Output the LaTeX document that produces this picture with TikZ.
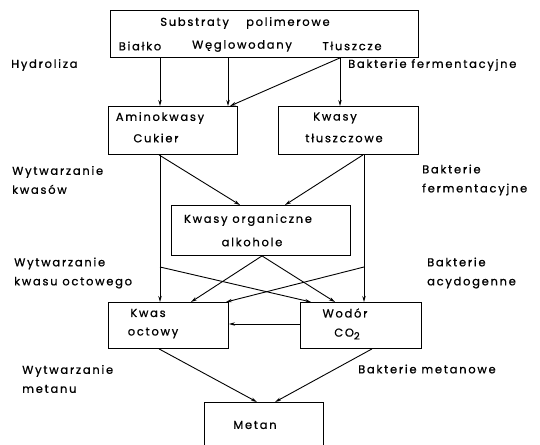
\documentclass[tikz,border=0pt]{standalone}
\usepackage{fontspec}
\setmainfont{Poppins}[LetterSpace=15,FakeBold=0.8]
\usetikzlibrary{arrows.meta,calc}
\begin{document}
\begin{tikzpicture}[x=1pt,y=-1pt,
  box/.style={draw,line width=0.9pt,inner sep=0pt,anchor=north west},
  lbl/.style={inner sep=0pt,anchor=west,font=\fontsize{11.5}{19}\selectfont},
  txt/.style={inner sep=0pt,font=\fontsize{11.5}{14}\selectfont},
  arr/.style={line width=0.9pt,-{Stealth[length=6pt,width=3.4pt]}}]
\clip (0,0) rectangle (540,444);
\fill[white] (0,0) rectangle (540,444);
% boxes
\node[box,minimum width=308,minimum height=47] (top) at (110,10) {};
\node[box,minimum width=129,minimum height=48] (amino) at (108,106) {};
\node[box,minimum width=140,minimum height=48] (fat) at (278,106) {};
\node[box,minimum width=179,minimum height=50] (org) at (171,205) {};
\node[box,minimum width=120,minimum height=46] (acet) at (108,302) {};
\node[box,minimum width=121,minimum height=46] (hyd) at (300,302) {};
\node[box,minimum width=119,minimum height=60] (met) at (204,402) {};
% box texts
\node[txt] (t1) at (245,23) {Substraty\hspace{1.5em}polimerowe};
\node[txt] (t2) at (140,46) {Białko};
\node[txt] (t3) at (242,46) {Węglowodany};
\node[txt] (t4) at (352,46) {Tłuszcze};
\node[txt] (a1) at (160,118) {Aminokwasy};
\node[txt] (a2) at (156,138) {Cukier};
\node[txt] (f1) at (335,118) {Kwasy};
\node[txt] (f2) at (344,138) {tłuszczowe};
\node[txt] (o1) at (248,220) {Kwasy organiczne};
\node[txt] (o2) at (252,242) {alkohole};
\node[txt] (k1) at (148,313) {Kwas};
\node[txt] (k2) at (153,333) {octowy};
\node[txt] (w1) at (345,313) {Wodór};
\node[txt] (w2) at (347,334) {CO\raisebox{-0.45ex}{\fontsize{10}{10}\selectfont 2}};
\node[txt] (m1) at (255,425) {Metan};
% side labels
\node[lbl] (l1) at (11,65) {Hydroliza};
\node[lbl,align=left] (l2) at (12,180) {Wytwarzanie\\kwasów};
\node[lbl,align=left] (l3) at (14,273) {Wytwarzanie\\kwasu octowego};
\node[lbl,align=left] (l4) at (22,379) {Wytwarzanie\\metanu};
\node[lbl] (r1) at (348,65) {Bakterie fermentacyjne};
\node[lbl,align=left] (r2) at (422,180) {Bakterie\\fermentacyjne};
\node[lbl,align=left] (r3) at (427,273) {Bakterie\\acydogenne};
\node[lbl] (r4) at (358,369) {Bakterie metanowe};
% connectors
\draw[arr] (160,0 |- top.south) -- (160,0 |- amino.north);
\draw[arr] (228,0 |- top.south) -- (228,0 |- amino.north);
\draw[arr] (340,0 |- top.south) -- (340,0 |- fat.north);
\draw[arr] (340,0 |- top.south) -- (230,0 |- amino.north);
\draw[arr] (159,0 |- amino.south) -- (240,0 |- org.north);
\draw[arr] (363,0 |- fat.south) -- (285,0 |- org.north);
\draw[arr] (160,0 |- amino.south) -- (160,0 |- acet.north);
\draw[arr] (364,0 |- fat.south) -- (364,0 |- hyd.north);
\coordinate (cl) at (160,267);
\coordinate (cr) at (364,267);
\draw[arr] (cl) -- (311,0 |- hyd.north);
\draw[arr] (cr) -- (226,0 |- acet.north);
\draw[arr] (262,0 |- org.south) -- (191,0 |- acet.north);
\draw[arr] (262,0 |- org.south) -- (335,0 |- hyd.north);
\draw[arr] (hyd.west |- 0,324) -- (acet.east |- 0,324);
\draw[arr] (159,0 |- acet.south) -- (257,0 |- met.north);
\draw[arr] (372,0 |- hyd.south) -- (275,0 |- met.north);
\end{tikzpicture}
\end{document}
